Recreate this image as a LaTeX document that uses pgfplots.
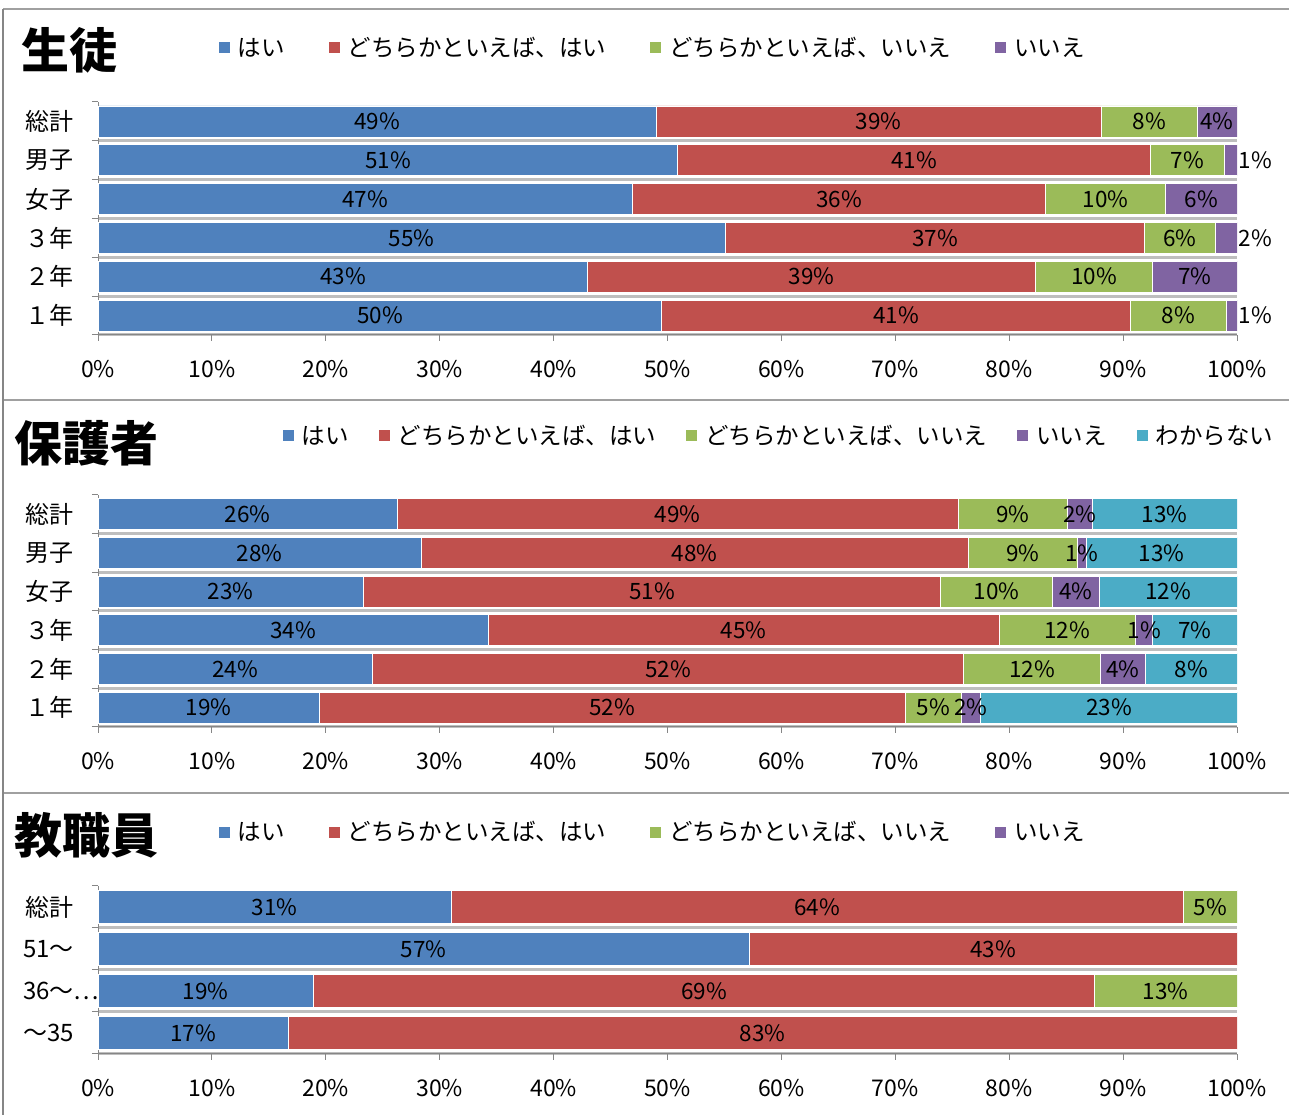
\documentclass[border=0pt]{standalone}
\usepackage{fontspec}
\setmainfont{Noto Sans CJK JP}
\usepackage{pgfplots}
\pgfplotsset{compat=1.18}
\definecolor{blueC}{HTML}{4F81BD}
\definecolor{redC}{HTML}{C0504D}
\definecolor{greenC}{HTML}{9BBB59}
\definecolor{purpleC}{HTML}{8064A2}
\definecolor{cyanC}{HTML}{4BACC6}
\definecolor{axgray}{RGB}{134,134,134}
\definecolor{gridgray}{RGB}{190,190,190}
\definecolor{framegray}{RGB}{160,160,160}
\newcommand{\fs}[1]{\fontsize{#1}{#1}\selectfont}
\pgfplotsset{
  sqlegend/.style={legend image code/.code={\fill[##1,draw=none] (0pt,-5.5pt) rectangle (11pt,5.5pt);}},
  barax/.style={
    scale only axis, width=1139pt, anchor=south west,
    xmin=0, xmax=100, xbar stacked,
    axis lines*=left,
    axis line style={axgray, line width=1pt},
    tick style={axgray, line width=1pt},
    major tick length=6pt, minor tick length=6pt, tick align=outside,
    xtick={0,10,20,30,40,50,60,70,80,90,100},
    xticklabels={0\%,10\%,20\%,30\%,40\%,50\%,60\%,70\%,80\%,90\%,100\%},
    xticklabel style={font=\fs{23}, anchor=center, yshift=-28pt},
    yticklabels={},
    yticklabel style={font=\fs{24}, anchor=east, inner sep=0pt, xshift=-24pt},
    extra y tick style={ymajorgrids=false, major tick length=0pt},
    ymajorgrids, major grid style={gridgray, line width=3pt},
    every axis plot post/.append style={sqlegend, draw=white, line width=0.8pt},
    legend columns=-1, legend cell align=left,
    legend style={draw=none, fill=none, inner sep=0pt, outer sep=0pt, anchor=west,
      font=\fs{23.5}, nodes={inner sep=0pt},
      /tikz/every odd column/.append style={column sep=8pt}},
  },
  labax/.style={
    scale only axis, width=1139pt, anchor=south west,
    xmin=0, xmax=100, hide axis, clip=false,
  },
  labplot/.style={draw=none, mark=none, nodes near coords, point meta=explicit symbolic,
    every node near coord/.append style={anchor=center, font=\fs{22.5}, inner sep=0pt, text=black}},
}
\begin{document}
\begin{tikzpicture}[x=1pt,y=1pt]
\useasboundingbox (0,0) rectangle (1289,1115);
\fill[white] (0,0) rectangle (1289,1115);
% frame
\draw[framegray, line width=2.5pt] (3,1106) -- (1289,1106);
\draw[framegray, line width=2.5pt] (3,715) -- (1289,715);
\draw[framegray, line width=2.5pt] (3,322) -- (1289,322);
\draw[axgray, line width=1.5pt] (3,0) -- (3,1106);
% titles
\node[font=\fs{48}\bfseries] at (69.5,1065) {生徒};
\node[font=\fs{48}\bfseries] at (86,672) {保護者};
\node[font=\fs{48}\bfseries] at (86,280) {教職員};

% ---------------- panel 1 ----------------
\begin{axis}[barax, at={(98pt,780pt)}, height=233pt, ymin=-0.5, ymax=5.5, bar width=31pt,
  ytick={-0.5,0.5,1.5,2.5,3.5,4.5}, minor ytick={5.5},
  extra y ticks={0,1,2,3,4,5}, extra y tick labels={１年,２年,３年,女子,男子,総計},
  legend style={at={(axis description cs:0.1062,1.2318)},
    /tikz/every even column/.append style={column sep=44pt}}]
\addplot[fill=blueC] coordinates {(49.0,5) (50.9,4) (46.9,3) (55.1,2) (43.0,1) (49.5,0)};
\addplot[fill=redC] coordinates {(39.1,5) (41.5,4) (36.3,3) (36.8,2) (39.3,1) (41.1,0)};
\addplot[fill=greenC] coordinates {(8.4,5) (6.5,4) (10.5,3) (6.2,2) (10.3,1) (8.5,0)};
\addplot[fill=purpleC] coordinates {(3.5,5) (1.1,4) (6.3,3) (1.9,2) (7.4,1) (0.9,0)};
\legend{はい,どちらかといえば、はい,どちらかといえば、いいえ,いいえ}
\end{axis}
\begin{axis}[labax, at={(98pt,780pt)}, height=233pt, ymin=-0.5, ymax=5.5]
\addplot[labplot] coordinates {
 (24.5,5) [49\%] (68.55,5) [39\%] (92.3,5) [8\%] (98.25,5) [4\%]
 (25.45,4) [51\%] (71.65,4) [41\%] (95.65,4) [7\%] (101.6,4) [1\%]
 (23.45,3) [47\%] (65.05,3) [36\%] (88.45,3) [10\%] (96.85,3) [6\%]
 (27.55,2) [55\%] (73.5,2) [37\%] (95.0,2) [6\%] (101.6,2) [2\%]
 (21.5,1) [43\%] (62.65,1) [39\%] (87.45,1) [10\%] (96.3,1) [7\%]
 (24.75,0) [50\%] (70.05,0) [41\%] (94.85,0) [8\%] (101.6,0) [1\%]
};
\end{axis}

% ---------------- panel 2 ----------------
\begin{axis}[barax, at={(98pt,388pt)}, height=232pt, ymin=-0.5, ymax=5.5, bar width=31pt,
  ytick={-0.5,0.5,1.5,2.5,3.5,4.5}, minor ytick={5.5},
  extra y ticks={0,1,2,3,4,5}, extra y tick labels={１年,２年,３年,女子,男子,総計},
  legend style={at={(axis description cs:0.1624,1.2543)},
    /tikz/every even column/.append style={column sep=30pt}}]
\addplot[fill=blueC] coordinates {(26.3,5) (28.4,4) (23.3,3) (34.3,2) (24.1,1) (19.4,0)};
\addplot[fill=redC] coordinates {(49.2,5) (48.0,4) (50.7,3) (44.8,2) (51.9,1) (51.5,0)};
\addplot[fill=greenC] coordinates {(9.6,5) (9.6,4) (9.8,3) (12.0,2) (12.0,1) (4.9,0)};
\addplot[fill=purpleC] coordinates {(2.2,5) (0.8,4) (4.1,3) (1.5,2) (4.0,1) (1.7,0)};
\addplot[fill=cyanC] coordinates {(12.7,5) (13.2,4) (12.1,3) (7.4,2) (8.0,1) (22.5,0)};
\legend{はい,どちらかといえば、はい,どちらかといえば、いいえ,いいえ,わからない}
\end{axis}
\begin{axis}[labax, at={(98pt,388pt)}, height=232pt, ymin=-0.5, ymax=5.5]
\addplot[labplot] coordinates {
 (13.15,5) [26\%] (50.9,5) [49\%] (80.3,5) [9\%] (86.2,5) [2\%] (93.65,5) [13\%]
 (14.2,4) [28\%] (52.4,4) [48\%] (81.2,4) [9\%] (86.4,4) [1\%] (93.4,4) [13\%]
 (11.65,3) [23\%] (48.65,3) [51\%] (78.9,3) [10\%] (85.85,3) [4\%] (93.95,3) [12\%]
 (17.15,2) [34\%] (56.7,2) [45\%] (85.1,2) [12\%] (91.85,2) [1\%] (96.3,2) [7\%]
 (12.05,1) [24\%] (50.05,1) [52\%] (82.0,1) [12\%] (90.0,1) [4\%] (96.0,1) [8\%]
 (9.7,0) [19\%] (45.15,0) [52\%] (73.35,0) [5\%] (76.65,0) [2\%] (88.75,0) [23\%]
};
\end{axis}

% ---------------- panel 3 ----------------
\begin{axis}[barax, at={(98pt,61pt)}, height=168pt, ymin=-0.5, ymax=3.5, bar width=33pt,
  ytick={-0.5,0.5,1.5,2.5}, minor ytick={3.5},
  extra y ticks={0,1,2,3}, extra y tick labels={〜35,36〜\rlap{…},51〜,総計},
  legend style={at={(axis description cs:0.1062,1.3214)},
    /tikz/every even column/.append style={column sep=44pt}}]
\addplot[fill=blueC] coordinates {(31.0,3) (57.2,2) (18.9,1) (16.7,0)};
\addplot[fill=redC] coordinates {(64.3,3) (42.8,2) (68.6,1) (83.3,0)};
\addplot[fill=greenC] coordinates {(4.7,3) (0,2) (12.5,1) (0,0)};
\addlegendentry{はい}
\addlegendentry{どちらかといえば、はい}
\addlegendentry{どちらかといえば、いいえ}
\addlegendimage{fill=purpleC, sqlegend}
\addlegendentry{いいえ}
\end{axis}
\begin{axis}[labax, at={(98pt,61pt)}, height=168pt, ymin=-0.5, ymax=3.5]
\addplot[labplot] coordinates {
 (15.5,3) [31\%] (63.15,3) [64\%] (97.65,3) [5\%]
 (28.6,2) [57\%] (78.6,2) [43\%]
 (9.45,1) [19\%] (53.2,1) [69\%] (93.75,1) [13\%]
 (8.35,0) [17\%] (58.35,0) [83\%]
};
\end{axis}
\end{tikzpicture}
\end{document}
